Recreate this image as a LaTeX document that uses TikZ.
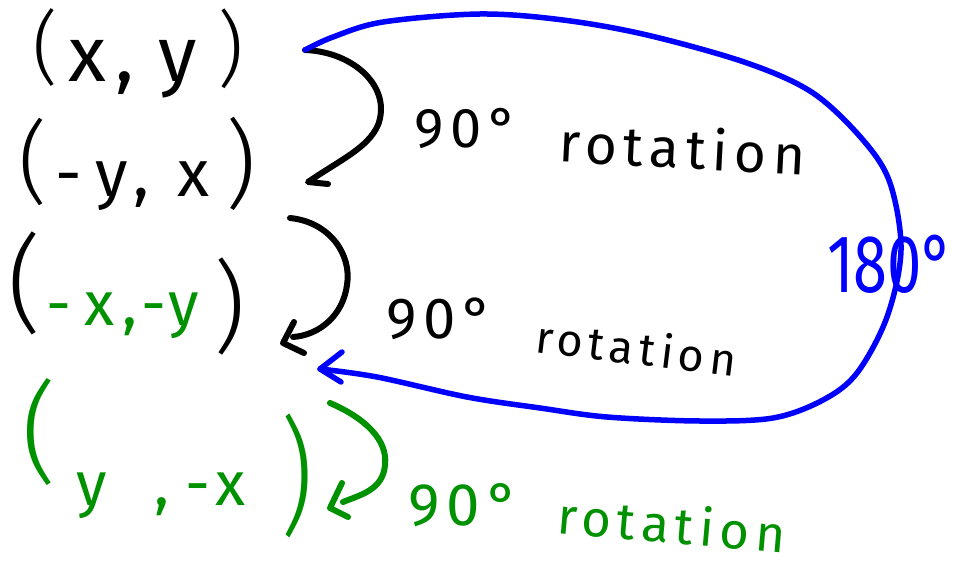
\documentclass[tikz,border=0pt]{standalone}
\usepackage{fontspec}
\usepackage{graphicx}
\setmainfont{Fira Sans}
\newfontfamily\hand[LetterSpace=12]{Fira Sans}
\newfontfamily\parfont{Fira Sans Light}
\newcommand\hsz[1]{\fontsize{#1}{#1}\selectfont}
\definecolor{hgreen}{RGB}{0,145,0}
\definecolor{hblue}{RGB}{0,0,255}
\tikzset{
  txt/.style={inner sep=0pt, outer sep=0pt, anchor=base west},
  par/.style={inner sep=0pt, outer sep=0pt, anchor=base, font=\parfont},
  ink/.style={line width=6pt, line cap=round, line join=round},
}
\begin{document}
\begin{tikzpicture}[x=1pt,y=-1pt]
\fill[white] (0,0) rectangle (957,569);
\useasboundingbox (0,0) rectangle (957,569);

% row 1
\node[par] (lp1) at (45,76) {\hsz{80}(};
\node[txt] (c1) at (68,82) {\hsz{78}\hand x,\hspace{24pt}y};
\node[par] (rp1) at (231,78) {\hsz{82})};
% row 2
\node[par] (lp2) at (33,194) {\hsz{90}(};
\node[txt] (c2) at (55,197) {\hsz{66}\hand -\hspace{14pt}y,\hspace{28pt}x};
\node[par] (rp2) at (241,198) {\hsz{96})};
% row 3
\node[par] (lp3) at (25,320) {\hsz{106}(};
\node[txt, text=hgreen] (c3) at (46,325) {\hsz{62}\hand -\hspace{14pt}x,-\hspace{2pt}y};
\node[par] (rp3) at (230,341) {\hsz{100})};
% row 4
\node[par, text=hgreen] (lp4) at (39,470) {\hsz{110}(};
\node[txt, text=hgreen] (c4) at (76,505) {\hsz{62}\hand y\hspace{48pt},\hspace{16pt}-x};
\node[par, text=hgreen] (rp4) at (297,520) {\hsz{102}\scalebox{1}[1.25]{)}};

% labels
\node[txt] (l1) at (414,148) {\hsz{56}\hand 90°};
\node[txt, rotate=-3] (r1) at (558,162) {\hsz{55}\hand rotation};
\node[txt] (l2) at (386,338) {\hsz{58}\hand 90°};
\node[txt, rotate=-7] (r2) at (534,352) {\hsz{45}\hand rotation};
\node[txt, text=hgreen] (l3) at (408,525) {\hsz{60}\hand 90°};
\node[txt, rotate=-5, text=hgreen] (r3) at (556,533) {\hsz{51}\hand rotation};
\node[txt, text=hblue] (l4) at (827,292) {\hsz{82}\scalebox{0.75}[1]{180°}};

% black arrow 1
\coordinate (s1) at (305,50);
\coordinate (t1) at (308,182);
\draw[ink] (s1) .. controls (355,52) and (392,88) .. (378,125) .. controls (368,148) and (340,160) .. (t1) -- (328,184);
% black arrow 2
\coordinate (s2) at (290,218);
\coordinate (e2) at (293,337);
\coordinate (t2) at (283,343);
\draw[ink] (s2) .. controls (330,222) and (352,255) .. (347,285) .. controls (343,315) and (320,335) .. (e2);
\draw[ink] (294,322) -- (t2) -- (304,353);
% green arrow 3
\coordinate (s3) at (330,403);
\coordinate (e3) at (343,502);
\coordinate (t3) at (330,508);
\draw[ink, hgreen] (s3) .. controls (365,418) and (388,440) .. (385,465) .. controls (383,490) and (360,495) .. (e3);
\draw[ink, hgreen] (342,483) -- (t3) -- (348,517);
% blue 180 arrow
\coordinate (t4) at (320,369);
\draw[ink, hblue, line width=5.5pt] plot[smooth, tension=0.55] coordinates {(305,50) (333,37) (383,22) (480,14) (563,20) (647,35) (747,63) (813,93) (863,140) (890,183) (901,250) (887,317) (857,373) (823,400) (773,418) (700,421) (607,417) (540,408) (467,397) (377,377) (320,369)};
\draw[ink, hblue, line width=5.5pt] (342,352) -- (t4) -- (341,382);
\end{tikzpicture}
\end{document}
